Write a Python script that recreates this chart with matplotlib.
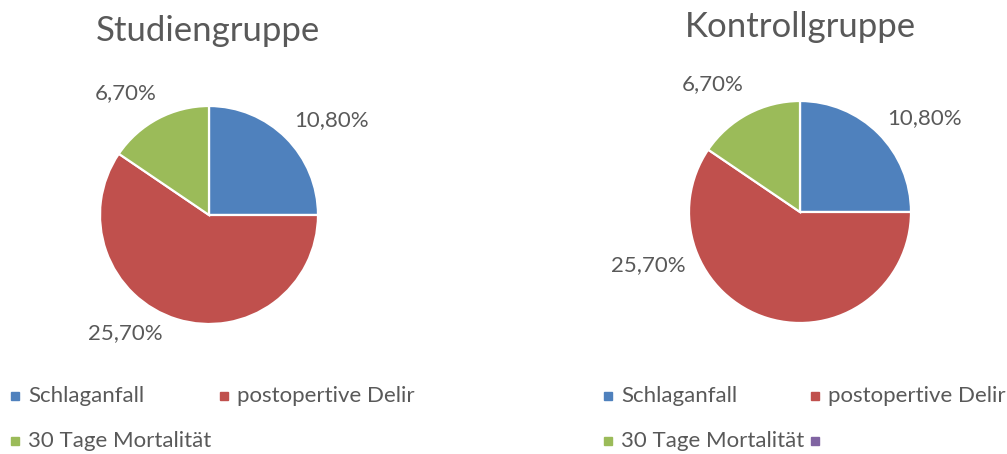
import matplotlib
matplotlib.use("Agg")
import matplotlib.pyplot as plt
from matplotlib.lines import Line2D

categories = ["Schlaganfall", "postopertive Delir", "30 Tage Mortalität"]
studie_values = [10.8, 25.7, 6.7]
kontroll_values = [10.8, 25.7, 6.7]
studie_labels = ["10,80%", "25,70%", "6,70%"]
kontroll_labels = ["10,80%", "25,70%", "6,70%"]
titles = ["Studiengruppe", "Kontrollgruppe"]
colors = ["#4F81BD", "#C0504D", "#9BBB59"]
extra_color = "#8064A2"

W, H = 1007, 454
plt.rcParams['font.family'] = ['Lato', 'DejaVu Sans']
TXT = "#595959"
fig = plt.figure(figsize=(W / 100, H / 100), dpi=100)


def fx(x):
    return x / W


def fy(y):
    return 1 - y / H


def pie_at(cx, cy, r, values, labels, label_pos):
    ax = fig.add_axes([fx(cx - r), fy(cy + r), 2 * r / W, 2 * r / H])
    ax.pie(values, colors=colors, startangle=90, counterclock=False,
           wedgeprops=dict(edgecolor="white", linewidth=1.6), radius=1)
    ax.set_xlim(-1, 1)
    ax.set_ylim(-1, 1)
    ax.set_aspect("equal")
    ax.axis("off")
    for lab, (px, py) in zip(labels, label_pos):
        fig.text(fx(px), fy(py), lab, ha="center", va="center",
                 fontsize=16, color=TXT)


pie_at(209, 215, 109, studie_values, studie_labels,
       [(332, 120), (125, 333), (126, 93)])
pie_at(800, 212, 111, kontroll_values, kontroll_labels,
       [(925, 118), (648, 265), (713, 84)])

fig.text(fx(208), fy(31), titles[0], ha="center", va="center", fontsize=25, color=TXT)
fig.text(fx(800), fy(27), titles[1], ha="center", va="center", fontsize=25, color=TXT)


def legend_at(x0, x1, y0, y1, items):
    for (x, y), (lab, col) in zip([(x0, y0), (x1, y0), (x0, y1), (x1, y1)], items):
        fig.add_artist(Line2D([fx(x + 4)], [fy(y)], marker="s", markersize=5.5,
                              color=col, linestyle="none", transform=fig.transFigure))
        if lab:
            fig.text(fx(x + 17), fy(y), lab, ha="left", va="center",
                     fontsize=16, color=TXT)


legend_at(11, 220, 396, 441, list(zip(categories, colors)))
legend_at(604, 811, 396, 441, list(zip(categories, colors)) + [("", extra_color)])

fig.savefig("out.png", dpi=100, facecolor="white")
